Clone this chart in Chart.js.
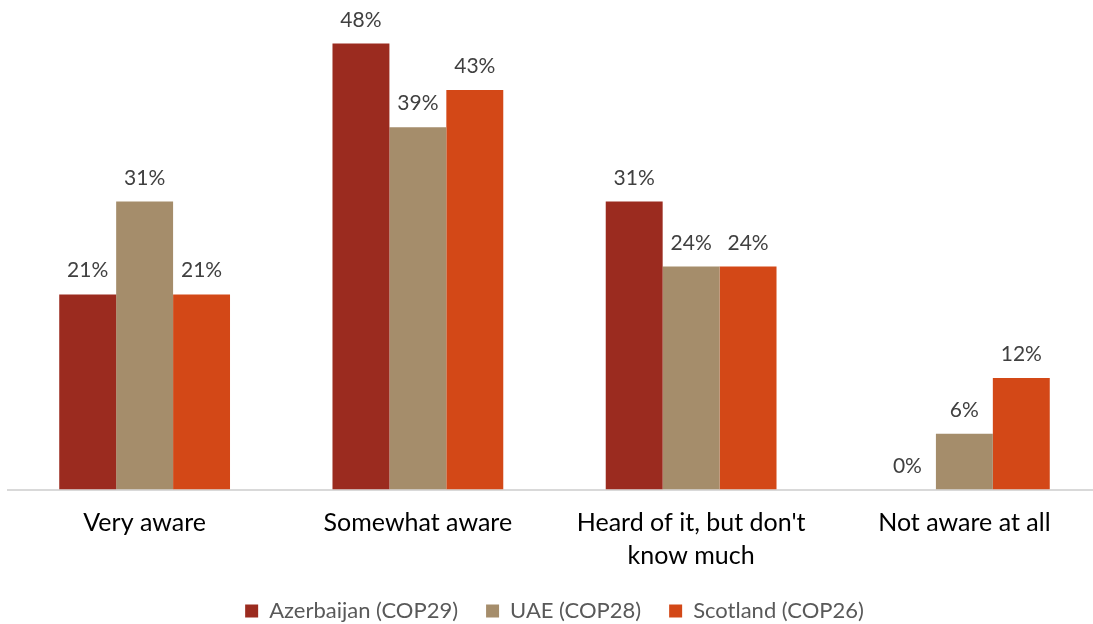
<!DOCTYPE html>
<html>
<head>
<meta charset="utf-8">
<script src="https://cdn.jsdelivr.net/npm/chart.js@4"></script>
<style>
  html, body { margin: 0; padding: 0; background: #fff; overflow: hidden; }
  #wrap { width: 1110px; height: 624px; }
</style>
</head>
<body>
<div id="wrap"><canvas id="chart"></canvas></div>
<script>
// awareness answers, percent of respondents
const categories = ['Very aware', 'Somewhat aware', ["Heard of it, but don't", 'know much'], 'Not aware at all'];
const azerbaijan = [21, 48, 31, 0];
const uae = [31, 39, 24, 6];
const scotland = [21, 43, 24, 12];
const seriesNames = ['Azerbaijan (COP29)', 'UAE (COP28)', 'Scotland (COP26)'];
const seriesColors = ['#9b2b1f', '#a58d6b', '#d34817'];

const FONT = 'Lato, "Open Sans", sans-serif';

// value labels above each bar
const barLabels = {
  id: 'barLabels',
  afterDatasetsDraw(chart) {
    const ctx = chart.ctx;
    ctx.save();
    ctx.font = '21px ' + FONT;
    ctx.fillStyle = '#404040';
    ctx.textAlign = 'center';
    ctx.textBaseline = 'alphabetic';
    chart.data.datasets.forEach((ds, i) => {
      chart.getDatasetMeta(i).data.forEach((bar, j) => {
        ctx.fillText(ds.data[j] + '%', bar.x, bar.y - 17);
      });
    });
    ctx.restore();
  }
};

new Chart(document.getElementById('chart'), {
  type: 'bar',
  data: {
    labels: categories,
    datasets: [azerbaijan, uae, scotland].map((d, i) => ({
      label: seriesNames[i],
      data: d,
      backgroundColor: seriesColors[i],
      borderWidth: 0,
      categoryPercentage: 0.625,
      barPercentage: 1
    }))
  },
  options: {
    responsive: true,
    maintainAspectRatio: false,
    animation: false,
    layout: { padding: { top: 25, left: 8, right: 9, bottom: -8 } },
    scales: {
      x: {
        grid: { display: false, drawTicks: false },
        border: { color: '#d9d9d9', width: 2 },
        ticks: { color: '#000', font: { family: FONT, size: 25, lineHeight: 1.32 }, padding: 17, maxRotation: 0, autoSkip: false },
        // fixed band height for the two-line labels
        afterFit(scale) { scale.height = 82.5; }
      },
      y: {
        display: false,
        min: 0,
        max: 50
      }
    },
    plugins: {
      legend: {
        position: 'bottom',
        labels: {
          color: '#595959',
          font: { family: FONT, size: 22 },
          boxWidth: 13,
          boxHeight: 13,
          padding: 28
        }
      },
      tooltip: { enabled: false }
    }
  },
  plugins: [barLabels]
});
</script>
</body>
</html>
